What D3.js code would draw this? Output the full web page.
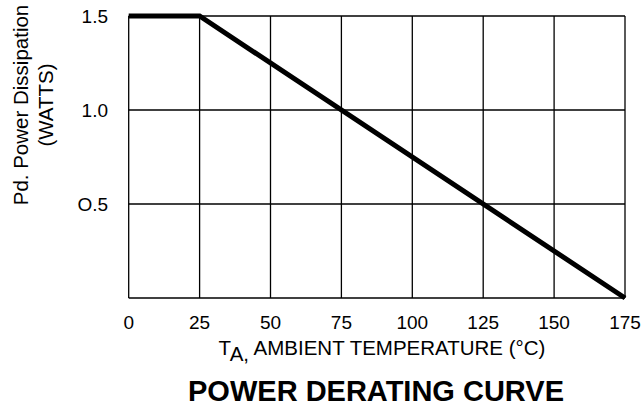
<!DOCTYPE html>
<html>
<head>
<meta charset="utf-8">
<script src="https://cdn.jsdelivr.net/npm/d3@7"></script>
<style>
  body { margin: 0; background: #fff; }
  svg text { font-family: "Liberation Sans", Arial, sans-serif; fill: #000; }
</style>
</head>
<body>
<div id="svg-container"></div>
<script>
// data
const temps = [0, 25, 175];
const power = [1.5, 1.5, 0];
const xTicks = [0, 25, 50, 75, 100, 125, 150, 175];
const yTicks = [0.5, 1.0, 1.5];
const yTickLabels = ["O.5", "1.0", "1.5"];

const width = 643, height = 410;
const margin = { top: 16, right: 18, bottom: 112, left: 128.7 };

const svg = d3.select("#svg-container").append("svg")
  .attr("width", width).attr("height", height);

// scale
const xScale = d3.scaleLinear().domain([0, 175]).range([margin.left, width - margin.right]);
const yScale = d3.scaleLinear().domain([0, 1.5]).range([height - margin.bottom, margin.top]);

// grid
const grid = svg.append("g").attr("stroke", "#000").attr("stroke-width", 1.3);
grid.selectAll(".vg").data(xTicks).enter().append("line")
  .attr("x1", d => xScale(d)).attr("x2", d => xScale(d))
  .attr("y1", yScale(0)).attr("y2", yScale(1.5));
grid.selectAll(".hg").data([0].concat(yTicks)).enter().append("line")
  .attr("x1", xScale(0)).attr("x2", xScale(175))
  .attr("y1", d => yScale(d)).attr("y2", d => yScale(d));

// axis labels
svg.append("g").selectAll("text").data(xTicks).enter().append("text")
  .attr("x", d => xScale(d)).attr("y", 329)
  .attr("text-anchor", "middle").attr("font-size", 19)
  .text(d => d);

svg.append("g").selectAll("text").data(yTicks).enter().append("text")
  .attr("x", 108).attr("y", d => yScale(d))
  .attr("dy", "0.35em")
  .attr("text-anchor", "end").attr("font-size", 19)
  .text((d, i) => yTickLabels[i]);

// curve
const line = d3.line().x((d, i) => xScale(temps[i])).y(d => yScale(d));
svg.append("path").datum(power)
  .attr("d", line)
  .attr("fill", "none").attr("stroke", "#000")
  .attr("stroke-width", 5).attr("stroke-linejoin", "miter");

// x title
const xt = svg.append("text").attr("x", 382).attr("y", 355)
  .attr("text-anchor", "middle").attr("font-size", 20.5);
xt.append("tspan").text("T");
xt.append("tspan").attr("dy", 6).text("A,");
xt.append("tspan").attr("dy", -6).text(" AMBIENT TEMPERATURE (°C)");

// y title
const yt = svg.append("g").attr("transform", "translate(28,105) rotate(-90)");
yt.append("text").attr("text-anchor", "middle").attr("font-size", 20.5)
  .text("Pd. Power Dissipation");
yt.append("text").attr("y", 25).attr("text-anchor", "middle").attr("font-size", 20.5)
  .text("(WATTS)");

// chart title
svg.append("text").attr("x", 376).attr("y", 401)
  .attr("text-anchor", "middle").attr("font-size", 29).attr("font-weight", "bold")
  .text("POWER DERATING CURVE");
</script>
</body>
</html>
